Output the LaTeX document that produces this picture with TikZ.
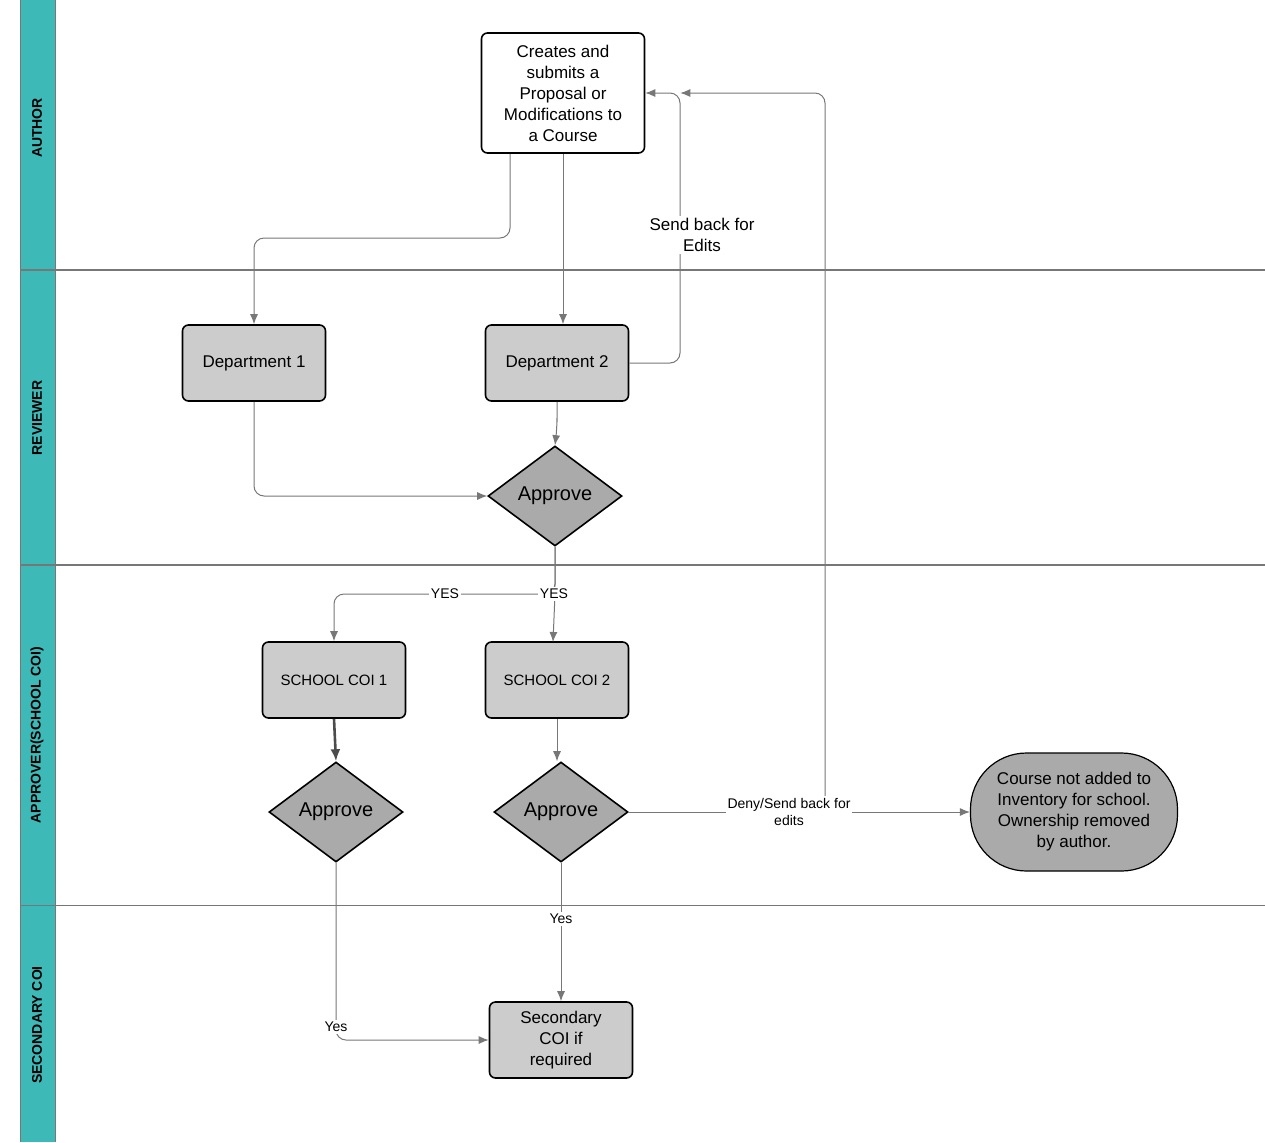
\documentclass[tikz,border=0pt]{standalone}
\usepackage{fontspec}
\setmainfont{Liberation Sans}
\usetikzlibrary{arrows.meta,positioning,shapes.geometric}
\definecolor{laneteal}{HTML}{3DBAB8}
\definecolor{boxgray}{HTML}{CCCCCC}
\definecolor{dgray}{HTML}{AAAAAA}
\definecolor{linegray}{HTML}{777777}
\tikzset{
  box/.style={draw, line width=0.8pt, rounded corners=3pt, fill=boxgray, minimum width=71.5pt, minimum height=38pt, align=center, font=\fontsize{8.5pt}{10.5pt}\selectfont},
  dia/.style={draw, line width=0.8pt, diamond, fill=dgray, minimum width=67pt, minimum height=50pt, inner sep=0pt, font=\fontsize{10pt}{12pt}\selectfont},
  flow/.style={draw=linegray, line width=0.5pt, rounded corners=5pt, -{Latex[length=5pt,width=4pt]}},
  lane/.style={rotate=90, font=\bfseries\fontsize{7pt}{8pt}\selectfont},
  lbl/.style={fill=white, inner sep=1pt, align=center, font=\fontsize{7pt}{8.5pt}\selectfont}
}
\begin{document}
\begin{tikzpicture}[x=0.5pt,y=-0.5pt]
  \useasboundingbox (0,0) rectangle (1265,1142);
  % Lanes
  \fill[laneteal] (20,0) rectangle (55,1142);
  \draw[linegray] (20,0) -- (20,1142) (55,0) -- (55,1142);
  \draw[linegray, line width=0.8pt] (20,270) -- (1265,270) (20,565) -- (1265,565);
  \draw[linegray] (20,905) -- (1265,905);
  \node[lane] (lauthor) at (37,128) {AUTHOR};
  \node[lane] (lreviewer) at (37,418) {REVIEWER};
  \node[lane] (lapprover) at (37,735) {APPROVER(SCHOOL COI)};
  \node[lane] (lsecondary) at (37,1025) {SECONDARY COI};

  % Nodes
  \node[box, fill=white, minimum width=81.5pt, minimum height=60pt] (author) at (563,93) {Creates and\\submits a\\Proposal or\\Modifications to\\a Course};
  \node[box] (dept1) at (254,363) {Department 1};
  \node[box] (dept2) at (557,363) {Department 2};
  \node[dia] (app1) at (555,496) {Approve};
  \node[box, font=\fontsize{7.5pt}{9pt}\selectfont] (coi1) at (334,680) {SCHOOL COI 1};
  \node[box, font=\fontsize{7.5pt}{9pt}\selectfont] (coi2) at (557,680) {SCHOOL COI 2};
  \node[dia] (app2) at (336,812) {Approve};
  \node[dia] (app3) at (561,812) {Approve};
  \node[draw, line width=0.6pt, fill=dgray, rounded corners=28pt, minimum width=103.5pt, minimum height=59pt, align=center, font=\fontsize{8.5pt}{10.5pt}\selectfont] (denied) at (1074,812) {Course not added to\\Inventory for school.\\Ownership removed\\by author.};
  \node[box] (second) at (561,1040) {Secondary\\COI if\\required};
  \coordinate (deny) at (825,812);

  % Connectors
  \draw[flow] ([xshift=-26.5pt]author.south) |- (380,238) -| (dept1.north);
  \draw[flow] (author.south) -- (author.south |- dept2.north);
  \draw[flow] (dept2.east) -| (680,180) |- (author.east);
  \node[lbl, font=\fontsize{8.5pt}{10.5pt}\selectfont] (sendback) at (702,235) {Send back for\\Edits};
  \draw[flow] (dept2.south) |- (557,428) -- (app1.north);
  \draw[flow] (dept1.south) |- (app1.west);
  \draw[flow] (app1.south) |- (coi1.north |- 0,594) -- (coi1.north);
  \draw[flow] (app1.south) -- (555,594) -- (553,642);
  \node[lbl] (yes1) at (445,594) {YES};
  \node[lbl] (yes2) at (554,594) {YES};
  \draw[-{Latex[length=6pt,width=5pt]}, draw=black!70, line width=1.3pt] (coi1.south) -- (app2.north);
  \draw[flow] (coi2.south) -- (coi2.south |- app3.north);
  \draw[flow] (app3.east) -- (denied.west);
  \draw[flow] (deny) |- ([xshift=17.5pt]author.east);
  \node[lbl] (denylbl) at (789,812) {Deny/Send back for\\edits};
  \draw[flow] (app3.south) -- (second.north);
  \node[lbl] (yes3) at (561,919) {Yes};
  \draw[flow] (app2.south) |- (second.west);
  \node[lbl] (yes4) at (336,1027) {Yes};
\end{tikzpicture}
\end{document}
